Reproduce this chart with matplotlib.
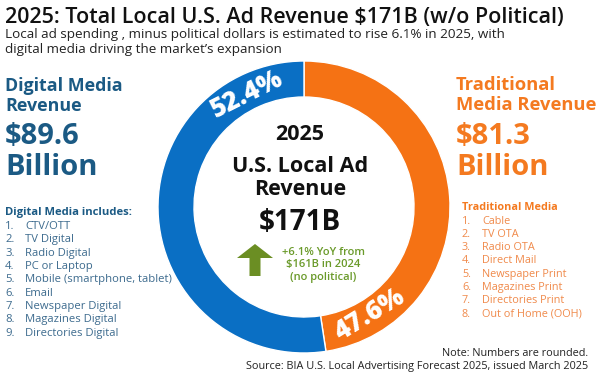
import numpy as np
import matplotlib.pyplot as plt

plt.rcParams['font.family'] = ['Open Sans', 'DejaVu Sans']

# data
shares = [47.6, 52.4]            # traditional, digital
share_labels = ["47.6%", "52.4%"]
label_angles = [-58.6, 116.6]    # degrees, where the % labels sit on the ring
digital_rev = 89.6
trad_rev = 81.3
total_rev = 171
prev_rev = 161
yoy = 6.1
digital_items = ["CTV/OTT", "TV Digital", "Radio Digital", "PC or Laptop",
                 "Mobile (smartphone, tablet)", "Email", "Newspaper Digital",
                 "Magazines Digital", "Directories Digital"]
trad_items = ["Cable", "TV OTA", "Radio OTA", "Direct Mail", "Newspaper Print",
              "Magazines Print", "Directories Print", "Out of Home (OOH)"]

BLUE = "#0a6fc4"
ORANGE = "#f57214"
DARKBLUE = "#1b5a84"
LISTBLUE = "#3d6b8e"
TORANGE = "#f47a20"
LISTORANGE = "#f08a4b"
GREEN = "#6a9a2a"

fig = plt.figure(figsize=(6, 3.75), dpi=100)
ax = fig.add_axes([0, 0, 1, 1])
ax.set_xlim(0, 600)
ax.set_ylim(375, 0)
ax.axis('off')

# donut
cx, cy, R, ring = 304, 207, 146, 36
pax = fig.add_axes([(cx - R) / 600, (375 - cy - R) / 375, 2 * R / 600, 2 * R / 375])
pax.pie(shares, colors=[ORANGE, BLUE], startangle=90, counterclock=False,
        wedgeprops=dict(width=ring / R, edgecolor='white', linewidth=1))
pax.set_xlim(-1, 1)
pax.set_ylim(-1, 1)
rmid = 1 - 0.55 * ring / R
for lab, a in zip(share_labels, label_angles):
    t = np.deg2rad(a)
    pax.text(rmid * np.cos(t), rmid * np.sin(t), lab, rotation=a + 90 if a < 0 else a - 90,
             ha='center', va='center', color='white', fontsize=18.5, fontweight='heavy',
             rotation_mode='anchor')

# title
ax.text(5, 17, "2025: Total Local U.S. Ad Revenue $%dB (w/o Political)" % total_rev,
        fontsize=15.5, fontweight='semibold', color='#111111', va='center')
ax.text(5, 42, "Local ad spending , minus political dollars is estimated to rise %.1f%% in 2025, with\n"
        "digital media driving the market\u2019s expansion" % yoy,
        fontsize=9.7, color='#222222', va='center', linespacing=1.15)

# left side
ax.text(5, 96, "Digital Media\nRevenue", fontsize=12.9, fontweight='bold', color=DARKBLUE,
        va='center', linespacing=1.1)
ax.text(5, 152, "$%.1f\nBillion" % digital_rev, fontsize=21, fontweight='bold', color=DARKBLUE,
        va='center', linespacing=1.05)
ax.text(5, 213, "Digital Media includes:", fontsize=8.1, fontweight='bold', color=DARKBLUE, va='center')
for i, it in enumerate(digital_items):
    y = 226.5 + i * 13.35
    ax.text(5, y, "%d." % (i + 1), fontsize=8.1, color=LISTBLUE, va='center')
    ax.text(25, y, it, fontsize=8.1, color=LISTBLUE, va='center')

# right side
ax.text(456, 95, "Traditional\nMedia Revenue", fontsize=13.2, fontweight='bold', color=TORANGE,
        va='center', linespacing=1.1)
ax.text(456, 152, "$%.1f\nBillion" % trad_rev, fontsize=21, fontweight='bold', color=TORANGE,
        va='center', linespacing=1.05)
ax.text(462, 207, "Traditional Media", fontsize=7.8, fontweight='bold', color=TORANGE, va='center')
for i, it in enumerate(trad_items):
    y = 221 + i * 13.3
    ax.text(462, y, "%d." % (i + 1), fontsize=7.8, color=LISTORANGE, va='center')
    ax.text(482, y, it, fontsize=7.8, color=LISTORANGE, va='center')

# center
ax.text(300, 135, "2025", fontsize=15.5, fontweight='bold', color='#111111', ha='center', va='center')
ax.text(300, 178, "U.S. Local Ad\nRevenue", fontsize=15.5, fontweight='bold', color='#111111',
        ha='center', va='center', linespacing=1.1)
ax.text(300, 222, "$%dB" % total_rev, fontsize=20, fontweight='bold', color='#111111',
        ha='center', va='center')
ax.arrow(255, 276, 0, -18, width=11, head_width=36, head_length=14, color='#6b8e23',
         length_includes_head=False, linewidth=0)
ax.text(323, 265, "+%.1f%% YoY from\n$%dB in 2024\n(no political)" % (yoy, prev_rev),
        fontsize=8, fontweight='semibold', color=GREEN, ha='center', va='center', linespacing=1.15)

# notes
ax.text(588, 353, "Note: Numbers are rounded.", fontsize=7.8, color='#222222', ha='right', va='center')
ax.text(588, 367, "Source: BIA U.S. Local Advertising Forecast 2025, issued March 2025",
        fontsize=7.8, color='#222222', ha='right', va='center')

fig.savefig("out.png", dpi=100)
